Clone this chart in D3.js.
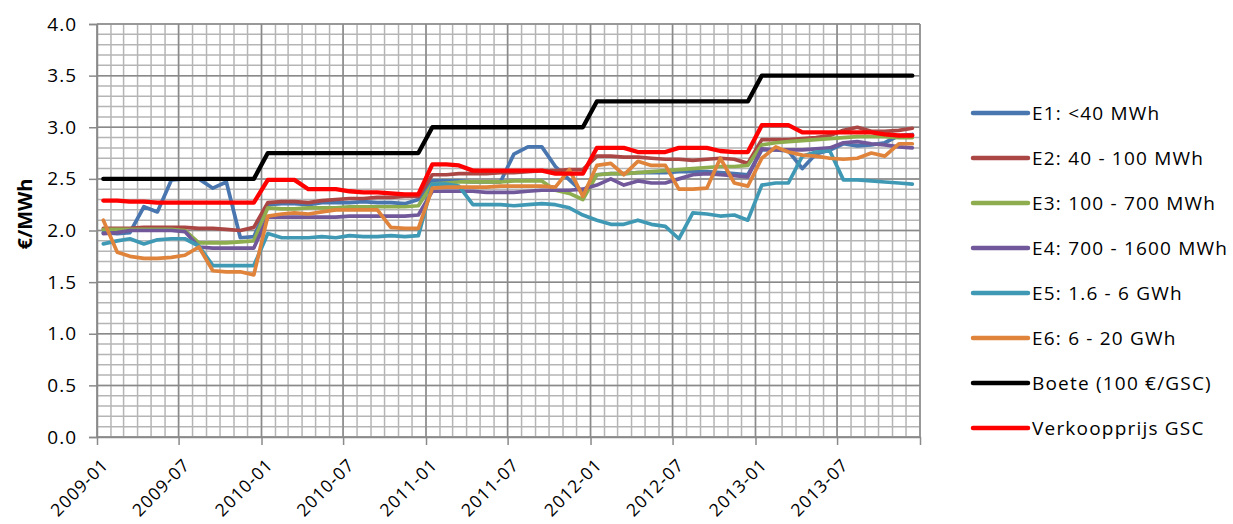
<!DOCTYPE html>
<head>
  <meta charset="utf-8">
  <title>GSC prijzen</title>
  <script src="https://d3js.org/d3.v7.min.js"></script>
  <style>
    body { margin: 0; background: #fff; }
    text { font-family: "Open Sans", sans-serif; fill: #000; }
  </style>
</head>
<body>
<script>
  var WIDTH = 1233, HEIGHT = 524;
  var margin = {left: 97, top: 24, right: 313, bottom: 87};
  var w = WIDTH - margin.left - margin.right,
      h = HEIGHT - margin.top - margin.bottom;

  // first month and number of monthly points
  var firstMonth = "2009-01", nMonths = 60;
  var tickLabels = ["2009-01","2009-07","2010-01","2010-07","2011-01","2011-07","2012-01","2012-07","2013-01","2013-07",""];
  var yTicks = [0, 0.5, 1, 1.5, 2, 2.5, 3, 3.5, 4];

  var names = ["E1: <40 MWh", "E2: 40 - 100 MWh", "E3: 100 - 700 MWh", "E4: 700 - 1600 MWh",
               "E5: 1.6 - 6 GWh", "E6: 6 - 20 GWh", "Boete (100 €/GSC)", "Verkoopprijs GSC"];
  var colors = ["#4A76B0", "#AA4643", "#8DAD4F", "#71589A", "#4099B4", "#E0843C", "#000000", "#FF0000"];

  var E1 = [1.98,1.97,1.98,2.23,2.18,2.49,2.50,2.50,2.41,2.47,1.93,1.94,
            2.25,2.26,2.26,2.25,2.27,2.27,2.27,2.28,2.27,2.27,2.26,2.30,
            2.48,2.48,2.48,2.47,2.47,2.47,2.74,2.81,2.81,2.62,2.49,2.37,
            2.54,2.55,2.55,2.56,2.56,2.56,2.57,2.57,2.57,2.56,2.55,2.54,
            2.78,2.78,2.77,2.60,2.74,2.78,2.84,2.82,2.83,2.85,2.92,2.93];
  var E2 = [2.02,2.02,2.02,2.03,2.03,2.03,2.03,2.02,2.02,2.01,2.00,2.03,
            2.27,2.28,2.28,2.27,2.29,2.30,2.31,2.31,2.32,2.32,2.33,2.33,
            2.54,2.54,2.55,2.55,2.55,2.56,2.56,2.57,2.58,2.58,2.59,2.59,
            2.72,2.72,2.71,2.71,2.70,2.69,2.69,2.68,2.69,2.70,2.69,2.65,
            2.88,2.88,2.88,2.89,2.90,2.92,2.97,3.00,2.96,2.96,2.97,2.99];
  var E3 = [2.01,2.01,2.01,2.01,2.01,2.01,2.00,1.88,1.88,1.88,1.89,1.90,
            2.22,2.21,2.21,2.22,2.22,2.22,2.23,2.23,2.23,2.23,2.23,2.24,
            2.45,2.46,2.47,2.47,2.47,2.47,2.48,2.48,2.48,2.39,2.36,2.30,
            2.54,2.55,2.55,2.56,2.57,2.58,2.59,2.60,2.61,2.62,2.62,2.63,
            2.83,2.85,2.86,2.87,2.88,2.89,2.90,2.91,2.91,2.91,2.90,2.90];
  var E4 = [1.97,1.98,2.00,2.00,2.00,2.00,1.99,1.84,1.83,1.83,1.83,1.83,
            2.13,2.13,2.13,2.13,2.13,2.13,2.14,2.14,2.14,2.14,2.14,2.15,
            2.38,2.38,2.38,2.38,2.37,2.37,2.37,2.38,2.39,2.39,2.39,2.40,
            2.44,2.50,2.44,2.48,2.46,2.46,2.50,2.54,2.55,2.54,2.53,2.52,
            2.79,2.78,2.78,2.78,2.79,2.80,2.85,2.86,2.84,2.83,2.81,2.80];
  var E5 = [1.87,1.90,1.92,1.87,1.91,1.92,1.92,1.85,1.66,1.66,1.66,1.66,
            1.97,1.93,1.93,1.93,1.94,1.93,1.95,1.94,1.94,1.95,1.94,1.95,
            2.45,2.45,2.43,2.25,2.25,2.25,2.24,2.25,2.26,2.25,2.22,2.15,
            2.10,2.06,2.06,2.10,2.06,2.04,1.92,2.17,2.16,2.14,2.15,2.10,
            2.44,2.46,2.46,2.72,2.76,2.77,2.49,2.49,2.48,2.47,2.46,2.45];
  var E6 = [2.10,1.79,1.75,1.73,1.73,1.74,1.76,1.84,1.61,1.60,1.60,1.57,
            2.14,2.16,2.17,2.16,2.18,2.20,2.20,2.20,2.20,2.03,2.02,2.02,
            2.41,2.42,2.42,2.42,2.42,2.43,2.43,2.43,2.43,2.42,2.59,2.33,
            2.63,2.65,2.54,2.67,2.63,2.63,2.40,2.40,2.41,2.70,2.46,2.43,
            2.70,2.81,2.76,2.73,2.72,2.70,2.69,2.70,2.75,2.72,2.84,2.84];
  var boete = [2.50,2.50,2.50,2.50,2.50,2.50,2.50,2.50,2.50,2.50,2.50,2.50,
               2.75,2.75,2.75,2.75,2.75,2.75,2.75,2.75,2.75,2.75,2.75,2.75,
               3.00,3.00,3.00,3.00,3.00,3.00,3.00,3.00,3.00,3.00,3.00,3.00,
               3.25,3.25,3.25,3.25,3.25,3.25,3.25,3.25,3.25,3.25,3.25,3.25,
               3.50,3.50,3.50,3.50,3.50,3.50,3.50,3.50,3.50,3.50,3.50,3.50];
  var verkoop = [2.29,2.29,2.28,2.28,2.27,2.27,2.27,2.27,2.27,2.27,2.27,2.27,
                 2.49,2.49,2.49,2.40,2.40,2.40,2.38,2.37,2.37,2.36,2.35,2.35,
                 2.64,2.64,2.63,2.58,2.58,2.58,2.58,2.58,2.58,2.55,2.55,2.55,
                 2.80,2.80,2.80,2.76,2.76,2.76,2.80,2.80,2.80,2.77,2.76,2.76,
                 3.02,3.02,3.02,2.95,2.95,2.95,2.95,2.95,2.95,2.93,2.92,2.92];
  var series = [E1, E2, E3, E4, E5, E6, boete, verkoop];

  var parseMonth = d3.timeParse("%Y-%m");
  var start = parseMonth(firstMonth);
  var months = d3.timeMonth.range(start, d3.timeMonth.offset(start, nMonths));
  var end = d3.timeMonth.offset(start, nMonths);
  // points sit mid-month
  var mid = months.map(function(m){ return d3.timeDay.offset(m, 14); });

  var svg = d3.select("body").append("svg")
              .attr("width", WIDTH)
              .attr("height", HEIGHT);
  var g = svg.append("g").attr("transform", "translate(" + margin.left + "," + margin.top + ")");

  var x = d3.scaleTime().domain([start, end]).range([0, w]);
  var y = d3.scaleLinear().domain([0, 4]).range([h, 0]);

  // minor grid
  var minorY = d3.range(0, 41).map(function(i){ return i / 10; });
  var allMonths = d3.timeMonth.range(start, d3.timeMonth.offset(end, 1));
  g.append("g").selectAll("line").data(minorY).enter().append("line")
    .attr("x1", 0).attr("x2", w)
    .attr("y1", function(d){ return y(d); }).attr("y2", function(d){ return y(d); })
    .attr("stroke", "#b5b5b5").attr("stroke-width", 1.5);
  g.append("g").selectAll("line").data(allMonths).enter().append("line")
    .attr("y1", 0).attr("y2", h)
    .attr("x1", function(d){ return x(d); }).attr("x2", function(d){ return x(d); })
    .attr("stroke", "#b5b5b5").attr("stroke-width", 1.5);

  // major grid
  var majorX = d3.timeMonth.every(6).range(start, d3.timeMonth.offset(end, 1));
  g.append("g").selectAll("line").data(yTicks).enter().append("line")
    .attr("x1", 0).attr("x2", w)
    .attr("y1", function(d){ return y(d); }).attr("y2", function(d){ return y(d); })
    .attr("stroke", "#8a8a8a").attr("stroke-width", 1.5);
  g.append("g").selectAll("line").data(majorX).enter().append("line")
    .attr("y1", 0).attr("y2", h)
    .attr("x1", function(d){ return x(d); }).attr("x2", function(d){ return x(d); })
    .attr("stroke", "#8a8a8a").attr("stroke-width", 1.5);

  // axes
  var yAxis = g.append("g")
    .call(d3.axisLeft(y).tickValues(yTicks).tickSize(8).tickPadding(12)
          .tickFormat(d3.format(".1f")));
  yAxis.selectAll("path, line").attr("stroke", "#8a8a8a").attr("stroke-width", 1.5);
  yAxis.selectAll("text").attr("font-size", 19).attr("letter-spacing", 1)
       .style("font-family", "'Open Sans', sans-serif");

  var xAxis = g.append("g").attr("transform", "translate(0," + h + ")")
    .call(d3.axisBottom(x).tickValues(majorX).tickSize(8).tickSizeOuter(0)
          .tickFormat(function(d, i){ return tickLabels[i]; }));
  xAxis.selectAll("path, line").attr("stroke", "#8a8a8a").attr("stroke-width", 1.5);
  xAxis.selectAll("text")
       .attr("font-size", 17.5).attr("letter-spacing", 1)
       .style("font-family", "'Open Sans', sans-serif")
       .attr("text-anchor", "end")
       .attr("x", 0).attr("y", 0).attr("dy", 0)
       .attr("transform", "translate(12,29) rotate(-45)");
  svg.selectAll(".domain").attr("stroke", "#8a8a8a");

  // y title
  svg.append("text")
    .attr("transform", "translate(32,214) rotate(-90)")
    .attr("text-anchor", "middle")
    .attr("font-size", 20).attr("font-weight", "bold")
    .text("€/MWh");

  // lines
  var line = d3.line()
    .x(function(d, i){ return x(mid[i]); })
    .y(function(d){ return y(d); });

  g.append("g").selectAll("path").data(series).enter().append("path")
    .attr("d", line)
    .attr("fill", "none")
    .attr("stroke", function(d, i){ return colors[i]; })
    .attr("stroke-width", function(d, i){ return i >= 6 ? 4.3 : 3.7; })
    .attr("stroke-linejoin", "round")
    .attr("stroke-linecap", "round");

  // legend
  var legend = svg.append("g").selectAll("g").data(names).enter().append("g")
    .attr("transform", function(d, i){ return "translate(973," + (113 + i * 45) + ")"; });
  legend.append("line")
    .attr("x1", 0).attr("x2", 55)
    .attr("stroke", function(d, i){ return colors[i]; })
    .attr("stroke-width", 4.5)
    .attr("stroke-linecap", "round");
  legend.append("text")
    .attr("x", 59).attr("dy", "0.36em")
    .attr("font-size", 19).attr("letter-spacing", 1.2)
    .text(function(d){ return d; });
</script>
</body>
